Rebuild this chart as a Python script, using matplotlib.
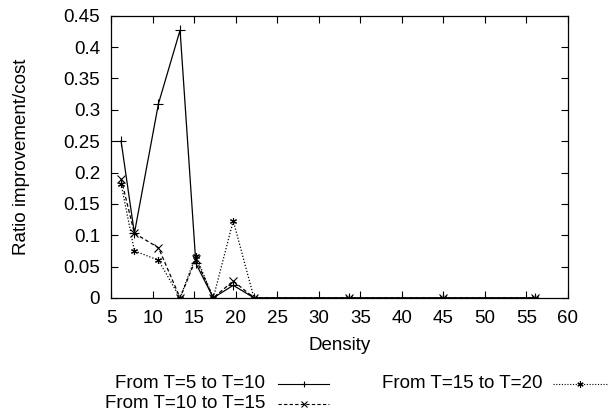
import matplotlib
matplotlib.use("Agg")
import matplotlib.pyplot as plt
from matplotlib.lines import Line2D

plt.rcParams['font.family'] = ['Liberation Sans', 'DejaVu Sans']
plt.rcParams['font.size'] = 13.5

# Datos
densidad = [6.2, 7.8, 10.7, 13.3, 15.2, 17.3, 19.7, 22.2, 33.6, 44.9, 56.0]
t5_t10 = [0.25, 0.103, 0.31, 0.427, 0.055, 0.0, 0.02, 0.0, 0.0, 0.0, 0.0]
t10_t15 = [0.19, 0.103, 0.08, 0.0, 0.062, 0.0, 0.027, 0.0, 0.0, 0.0, 0.0]
t15_t20 = [0.182, 0.075, 0.06, 0.0, 0.067, 0.0, 0.123, 0.0, 0.0, 0.0, 0.0]

etiquetas = ['From T=5 to T=10', 'From T=10 to T=15', 'From T=15 to T=20']
xticks = list(range(5, 61, 5))
yticks = [0, 0.05, 0.1, 0.15, 0.2, 0.25, 0.3, 0.35, 0.4, 0.45]
ytick_labels = ['0', '0.05', '0.1', '0.15', '0.2', '0.25', '0.3', '0.35', '0.4', '0.45']

estilos = [
    dict(ls='-', marker='+', ms=6.5),
    dict(ls=(0, (3, 2)), marker='x', ms=5.5),
    dict(ls=(0, (1, 1.5)), marker=(6, 2, 0), ms=5),
]

fig = plt.figure(figsize=(6.14, 4.16), dpi=100)
ax = fig.add_axes([0.181, 0.284, 0.744, 0.678])

for serie, est in zip([t5_t10, t10_t15, t15_t20], estilos):
    ax.plot(densidad, serie, color='black', lw=0.9, mew=0.8, **est)

ax.set_xlim(5, 60)
ax.set_ylim(0, 0.45)
ax.set_xticks(xticks)
ax.set_yticks(yticks)
ax.set_yticklabels(ytick_labels)
ax.tick_params(direction='in', length=5, width=0.8, top=True, right=True, labelsize=13.5)
ax.tick_params(axis='x', pad=9)
ax.tick_params(axis='y', pad=8)
for s in ax.spines.values():
    s.set_linewidth(0.9)

ax.set_xlabel('Density', fontsize=13.5)
ax.set_ylabel('Ratio improvement/cost', fontsize=13.5)
ax.xaxis.set_label_coords(0.5, -0.17)
ax.xaxis.label.set_va('center')
ax.yaxis.set_label_coords(-0.197, 0.5)
ax.yaxis.label.set_va('center')

# Leyenda estilo gnuplot: texto a la derecha y muestra despues
pos = [(0.4316, 0.0775, 0.453, 0.536), (0.4316, 0.029, 0.453, 0.536), (0.884, 0.0775, 0.901, 0.989)]
for etiqueta, est, (xt, yt, x0, x1) in zip(etiquetas, estilos, pos):
    fig.text(xt, yt, etiqueta, ha='right', va='center', fontsize=13.5)
    fig.add_artist(Line2D([x0, x1], [yt, yt], color='black', lw=0.8, ls=est['ls'],
                          transform=fig.transFigure))
    fig.add_artist(Line2D([(x0 + x1) / 2], [yt], color='black', marker=est['marker'],
                          ms=4.5, mew=0.8, transform=fig.transFigure))

fig.savefig('out.png', dpi=100)
